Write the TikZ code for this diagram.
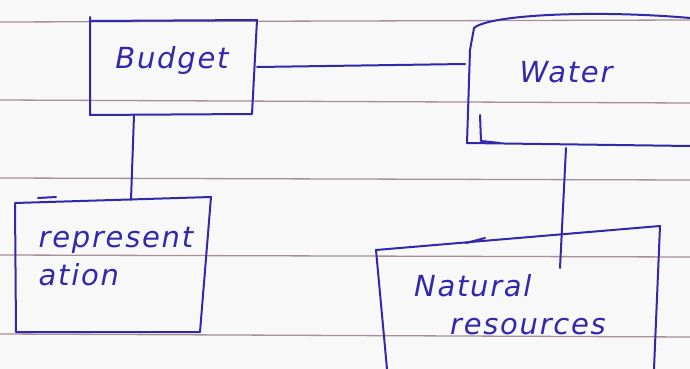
\documentclass[tikz,border=0pt]{standalone}
\usepackage{fontspec}
\setmainfont{DejaVu Sans}
\begin{document}
\begin{tikzpicture}[x=1pt,y=-1pt,
  ink/.style={draw=inkc,line width=2pt,line cap=round,line join=round},
  ruled/.style={draw=ruledc,line width=1.3pt},
  lbl/.style={text=inkc,font=\itshape\fontsize{29}{38}\selectfont\addfontfeature{LetterSpace=6},align=left,inner sep=0pt},
  hidden/.style={inner sep=0pt,minimum size=0pt}]
\definecolor{inkc}{RGB}{52,40,170}
\definecolor{ruledc}{RGB}{165,145,150}
\definecolor{paper}{RGB}{248,248,248}
\fill[paper] (0,0) rectangle (690,369);
\useasboundingbox (0,0) rectangle (690,369);
% ruled lines
\draw[ruled] (0,22) -- (690,20);
\draw[ruled] (0,100) -- (690,103);
\draw[ruled] (0,178) -- (690,180);
\draw[ruled] (0,255) -- (690,257);
\draw[ruled] (0,334) -- (690,337);
% Budget box
\node[hidden,minimum width=165pt,minimum height=96pt] (budget) at (171,67) {};
\draw[ink] (90,17) -- (90,115) -- (252,114) -- (257,20) -- (90,21);
\node[lbl] (budgettxt) at (172,60) {Budget};
% Water box
\node[hidden,minimum width=230pt,minimum height=120pt] (water) at (580,85) {};
\draw[ink] (690,18) .. controls (600,10) and (490,14) .. (474,28) -- (470,50) -- (467,143) -- (690,146);
\draw[ink] (480,115) -- (481,141) -- (500,143);
\node[lbl] (watertxt) at (566,72) {Water};
% Representation box
\node[hidden,minimum width=198pt,minimum height=137pt] (rep) at (113,265) {};
\draw[ink] (15,203) -- (16,332) -- (200,332) -- (211,197) -- (15,203);
\draw[ink] (38,198) -- (56,197);
\node[lbl] (reptxt) at (116,257) {represent\\ation};
% Natural resources box
\node[hidden,minimum width=285pt,minimum height=150pt] (nat) at (517,300) {};
\draw[ink] (387,369) -- (376,250) -- (660,226) -- (654,369);
\draw[ink] (466,243) -- (485,238);
\node[lbl] (nattxt) at (510,305) {Natural\\\hspace*{36pt}resources};
% connectors
\draw[ink] (257,67) -- (465,64);
\draw[ink] (134,115) -- (131,200);
\draw[ink] (566,148) -- (560,268);
\end{tikzpicture}
\end{document}
